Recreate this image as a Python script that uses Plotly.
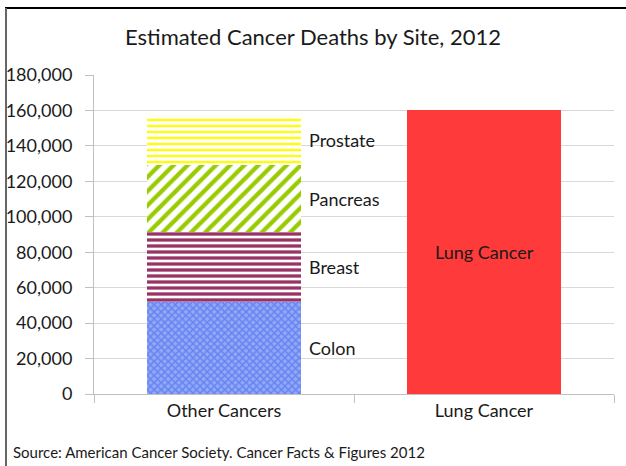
import plotly.graph_objects as go

# ---- data ----
categories = ["Other Cancers", "Lung Cancer"]
other_sites = ["Colon", "Breast", "Pancreas", "Prostate"]
other_values = [51690, 39920, 37390, 28170]
lung_value = 160340
y_ticks = [0, 20000, 40000, 60000, 80000, 100000, 120000, 140000, 160000, 180000]

FONT = "Lato"
W, H = 626, 466
L, R, T, B = 94, 12, 75, 72

patterns = {
    "Colon": dict(shape="x", fgcolor="#3a5fee", bgcolor="#93a9f6", size=5, solidity=0.5),
    "Breast": dict(shape="-", fgcolor="#993366", bgcolor="white", size=6, solidity=0.55, fgopacity=1),
    "Pancreas": dict(shape="/", fgcolor="#99cc00", bgcolor="white", size=10, solidity=0.42, fgopacity=1),
    "Prostate": dict(shape="-", fgcolor="#ffff00", bgcolor="white", size=6, solidity=0.38, fgopacity=1),
}

fig = go.Figure()
for name, val in zip(other_sites, other_values):
    fig.add_trace(go.Bar(
        x=[categories[0]], y=[val], name=name, width=0.59,
        marker=dict(color="white", line=dict(width=0), pattern=patterns[name]),
        hoverinfo="name+y",
    ))
fig.add_trace(go.Bar(
    x=[categories[1]], y=[lung_value], name="Lung Cancer", width=0.59,
    marker=dict(color="#ff3a3a", line=dict(width=0)),
))

annotations = []
cum = 0
for name, val in zip(other_sites, other_values):
    annotations.append(dict(
        x=categories[0], y=cum + val / 2, xref="x", yref="y", text=name,
        showarrow=False, xanchor="left", yanchor="middle", xshift=83,
        font=dict(family=FONT, size=18, color="#1a1a1a"),
    ))
    cum += val
annotations.append(dict(
    x=categories[1], y=lung_value / 2, xref="x", yref="y", text="Lung Cancer",
    showarrow=False, xanchor="center", yanchor="middle",
    font=dict(family=FONT, size=18, color="#1a1a1a"),
))
pw = W - L - R
ph = H - T - B
annotations.append(dict(
    x=(11 - L) / pw, y=1 - (452 - T) / ph, xref="paper", yref="paper",
    text="Source: American Cancer Society. Cancer Facts & Figures 2012",
    showarrow=False, xanchor="left", yanchor="middle",
    font=dict(family=FONT, size=15, color="#1a1a1a"),
))

shapes = [
    dict(type="line", xref="paper", yref="paper",
         x0=(5 - L) / pw, x1=(W - L) / pw, y0=1 + (T - 8) / ph, y1=1 + (T - 8) / ph,
         line=dict(color="black", width=2)),
    dict(type="line", xref="paper", yref="paper",
         x0=(6 - L) / pw, x1=(6 - L) / pw, y0=1 + (T - 8) / ph, y1=1 + (T - H) / ph,
         line=dict(color="#666666", width=2)),
]

fig.update_layout(
    width=W, height=H,
    margin=dict(l=L, r=R, t=T, b=B, autoexpand=False),
    paper_bgcolor="white", plot_bgcolor="white",
    barmode="stack", showlegend=False,
    title=dict(text="Estimated Cancer Deaths by Site, 2012", x=0.5, xref="container",
               y=1 - 37 / H, yref="container", xanchor="center", yanchor="middle",
               font=dict(family=FONT, size=22, color="#1a1a1a")),
    font=dict(family=FONT, color="#1a1a1a"),
    annotations=annotations, shapes=shapes,
)
fig.update_xaxes(
    range=[-0.5, 1.5], showgrid=False, showline=True, linecolor="#c0c0c0", linewidth=1,
    ticks="outside", tickson="boundaries", ticklen=8, tickcolor="#c0c0c0", automargin=False,
    tickfont=dict(family=FONT, size=18, color="#1a1a1a"),
)
fig.update_yaxes(
    range=[0, 180000], tickvals=y_ticks, tickformat=",", showgrid=True, gridcolor="#d9d9d9",
    showline=True, linecolor="#c0c0c0", linewidth=1, ticks="outside", ticklen=8,
    tickcolor="#c0c0c0", zeroline=False, ticklabelstandoff=9, automargin=False,
    tickfont=dict(family=FONT, size=18, color="#1a1a1a"),
)

fig.write_html("out.html", config={"displayModeBar": False},
               post_script="document.body.style.margin='0';document.body.style.overflow='hidden';")
